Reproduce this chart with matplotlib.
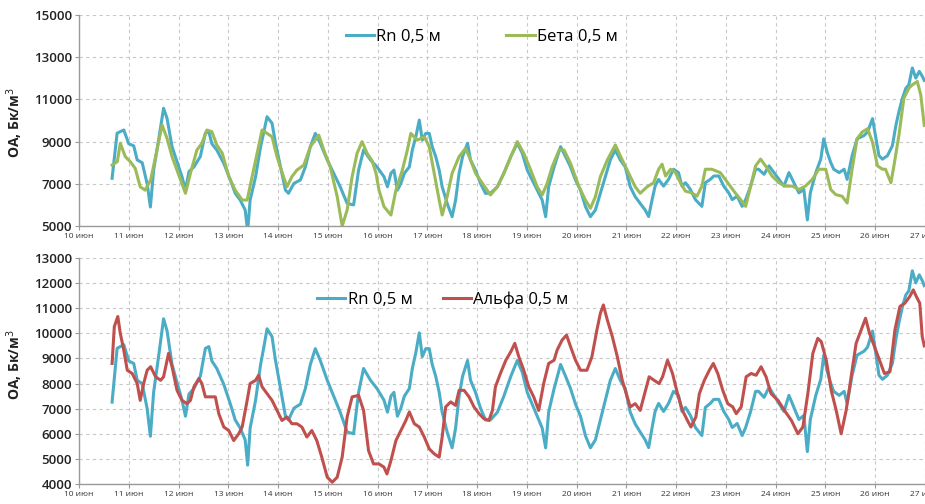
import matplotlib
matplotlib.use("Agg")
import matplotlib.pyplot as plt

# ---------------- data (day of June, values Бк/м3) ----------------
rn_day = [10.665, 10.766, 10.90, 11.0, 11.1, 11.17, 11.27, 11.37, 11.435, 11.50, 11.60, 11.70, 11.77, 11.87,
          11.97, 12.07, 12.14, 12.21, 12.31, 12.44, 12.54, 12.61, 12.67, 12.77, 12.91, 13.04, 13.14, 13.24,
          13.34, 13.39, 13.44, 13.55, 13.65, 13.71, 13.78, 13.88, 13.95, 14.05, 14.15, 14.21, 14.32, 14.45,
          14.55, 14.65, 14.75, 14.85, 14.99, 15.12, 15.25, 15.39, 15.52, 15.62, 15.72, 15.86, 15.99, 16.13,
          16.20, 16.27, 16.33, 16.40, 16.47, 16.54, 16.64, 16.70, 16.77, 16.84, 16.90, 16.97, 17.04, 17.10,
          17.17, 17.24, 17.30, 17.40, 17.50, 17.57, 17.64, 17.71, 17.81, 17.87, 17.97, 18.07, 18.17, 18.27,
          18.41, 18.54, 18.68, 18.81, 18.91, 19.01, 19.11, 19.21, 19.31, 19.38, 19.44, 19.55, 19.68, 19.78,
          19.88, 19.98, 20.08, 20.18, 20.28, 20.38, 20.48, 20.58, 20.68, 20.78, 20.88, 20.98, 21.08, 21.18,
          21.28, 21.38, 21.45, 21.52, 21.58, 21.65, 21.75, 21.85, 21.95, 22.05, 22.12, 22.19, 22.29, 22.39,
          22.52, 22.59, 22.69, 22.76, 22.86, 22.96, 23.06, 23.13, 23.23, 23.33, 23.40, 23.50, 23.60, 23.66,
          23.77, 23.87, 23.97, 24.07, 24.17, 24.27, 24.37, 24.47, 24.57, 24.64, 24.70, 24.81, 24.91, 24.97,
          25.04, 25.11, 25.17, 25.28, 25.38, 25.44, 25.54, 25.64, 25.78, 25.85, 25.95, 26.01, 26.08, 26.15,
          26.25, 26.35, 26.42, 26.48, 26.55, 26.62, 26.68, 26.75, 26.82, 26.89, 26.95, 26.99]
rn_val = [7260, 9400, 9550, 8900, 8800, 8130, 8000, 7000, 5900, 7650, 9080, 10580, 10100, 8760,
          8050, 7340, 6700, 7580, 7800, 8300, 9400, 9470, 8900, 8600, 7970, 7200, 6550, 6230,
          5760, 4750, 6230, 7340, 8760, 9390, 10180, 9870, 8920, 7800, 6700, 6550, 7020, 7180,
          7800, 8760, 9390, 8920, 8130, 7500, 6860, 6070, 6000, 7650, 8600, 8130, 7800, 7340,
          6860, 7500, 7650, 6700, 7020, 7500, 7800, 8600, 9230, 10020, 9070, 9390, 9390, 8760,
          8290, 7650, 6860, 6070, 5440, 6230, 7500, 8290, 8920, 8130, 7650, 7020, 6550, 6550,
          6860, 7500, 8290, 8920, 8450, 7650, 7180, 6700, 6230, 5440, 6860, 7800, 8760, 8290,
          7800, 7180, 6700, 5920, 5440, 5760, 6550, 7340, 8130, 8600, 8130, 7800, 6860, 6390,
          6070, 5760, 5450, 6250, 6890, 7210, 6890, 7210, 7690, 7530, 6890, 7050, 6730, 6250,
          5930, 7050, 7210, 7370, 7370, 6890, 6570, 6250, 6410, 5930, 6250, 6890, 7690, 7690,
          7450, 7850, 7530, 7210, 6890, 7530, 7050, 6570, 6730, 5290, 6570, 7530, 8170, 9130,
          8490, 8010, 7690, 7530, 7690, 7210, 8330, 9130, 9290, 9450, 10090, 9290, 8330, 8170,
          8330, 8810, 9770, 10410, 11050, 11530, 11690, 12490, 12010, 12330, 12100, 11900]

beta_day = [10.665, 10.77, 10.83, 10.93, 11.03, 11.13, 11.23, 11.33, 11.44, 11.54, 11.67, 11.77, 11.87,
            11.97, 12.14, 12.24, 12.37, 12.47, 12.57, 12.67, 12.77, 12.88, 13.01, 13.14, 13.28, 13.38,
            13.48, 13.58, 13.68, 13.78, 13.88, 13.98, 14.11, 14.18, 14.28, 14.38, 14.52, 14.65, 14.82,
            14.92, 15.05, 15.19, 15.29, 15.39, 15.49, 15.59, 15.69, 15.79, 15.89, 15.97, 16.03, 16.13,
            16.27, 16.37, 16.50, 16.60, 16.67, 16.80, 16.94, 17.04, 17.14, 17.24, 17.30, 17.40, 17.50,
            17.64, 17.77, 17.87, 17.97, 18.11, 18.27, 18.41, 18.54, 18.68, 18.81, 18.94, 19.08, 19.21,
            19.31, 19.41, 19.51, 19.65, 19.75, 19.88, 20.05, 20.18, 20.28, 20.38, 20.48, 20.62, 20.78,
            20.92, 21.05, 21.18, 21.28, 21.42, 21.55, 21.65, 21.72, 21.79, 21.89, 21.99, 22.09, 22.19,
            22.32, 22.42, 22.52, 22.59, 22.72, 22.89, 22.99, 23.09, 23.19, 23.30, 23.40, 23.50, 23.60,
            23.70, 23.80, 23.93, 24.07, 24.20, 24.34, 24.47, 24.60, 24.74, 24.87, 25.01, 25.11, 25.21,
            25.34, 25.44, 25.54, 25.64, 25.74, 25.85, 25.95, 26.05, 26.15, 26.21, 26.32, 26.38, 26.48,
            26.58, 26.68, 26.75, 26.85, 26.92, 26.99]
beta_val = [7890, 8050, 8920, 8290, 8050, 7730, 6860, 6700, 7180, 8290, 9790, 9150, 8290,
            7650, 6550, 7500, 8600, 8920, 9550, 9470, 8840, 8450, 7340, 6700, 6230, 6230,
            7340, 8450, 9550, 9390, 9230, 8290, 7340, 6860, 7340, 7650, 7890, 8760, 9310,
            8600, 7800, 6390, 5000, 5760, 7340, 8450, 9000, 8450, 8100, 7500, 6700, 5920,
            5520, 6700, 7650, 8600, 9390, 9070, 9230, 8760, 7500, 6230, 5520, 6390, 7500,
            8290, 8680, 8130, 7500, 7020, 6470, 6860, 7500, 8290, 9000, 8450, 7650, 6860,
            6470, 7020, 7800, 8600, 8600, 7970, 6860, 6230, 5840, 6390, 7340, 8130, 8840,
            8130, 7500, 6860, 6550, 6860, 7050, 7690, 7930, 7370, 7690, 7530, 7050, 6650,
            6570, 6410, 6890, 7690, 7690, 7530, 7210, 6890, 6570, 6250, 5930, 6890, 7850,
            8170, 7850, 7370, 7050, 6890, 6890, 6730, 6890, 7210, 7690, 7690, 6730, 6490,
            6410, 6090, 7690, 9130, 9450, 9610, 8970, 7850, 7690, 7690, 7050, 7850, 9290,
            11050, 11530, 11690, 11850, 11210, 9770]

alpha_day = [10.665, 10.71, 10.78, 10.83, 10.90, 10.97, 11.07, 11.17, 11.23, 11.30, 11.37, 11.44, 11.54,
             11.64, 11.70, 11.80, 11.87, 11.97, 12.07, 12.17, 12.24, 12.31, 12.41, 12.47, 12.54, 12.64,
             12.74, 12.81, 12.91, 13.01, 13.11, 13.21, 13.28, 13.38, 13.44, 13.55, 13.61, 13.68, 13.78,
             13.88, 13.98, 14.08, 14.18, 14.28, 14.38, 14.48, 14.58, 14.68, 14.78, 14.88, 14.99, 15.09,
             15.19, 15.29, 15.39, 15.49, 15.62, 15.72, 15.82, 15.92, 16.03, 16.13, 16.19, 16.27, 16.37,
             16.47, 16.57, 16.64, 16.74, 16.84, 16.94, 17.04, 17.14, 17.24, 17.30, 17.37, 17.47, 17.57,
             17.64, 17.74, 17.84, 17.94, 18.04, 18.14, 18.24, 18.31, 18.37, 18.47, 18.58, 18.68, 18.76,
             18.84, 18.94, 19.04, 19.14, 19.24, 19.34, 19.44, 19.55, 19.61, 19.71, 19.80, 19.88, 19.98,
             20.08, 20.21, 20.31, 20.41, 20.48, 20.54, 20.62, 20.72, 20.82, 20.92, 21.02, 21.08, 21.18,
             21.28, 21.37, 21.46, 21.56, 21.66, 21.73, 21.83, 21.93, 22.03, 22.13, 22.23, 22.30, 22.40,
             22.47, 22.57, 22.67, 22.75, 22.84, 22.94, 23.04, 23.14, 23.21, 23.31, 23.41, 23.51, 23.61,
             23.71, 23.81, 23.91, 24.05, 24.18, 24.32, 24.45, 24.55, 24.65, 24.75, 24.85, 24.92, 25.02,
             25.12, 25.22, 25.32, 25.42, 25.52, 25.62, 25.72, 25.81, 25.89, 25.99, 26.09, 26.19, 26.30,
             26.40, 26.50, 26.60, 26.70, 26.77, 26.83, 26.90, 26.95, 26.99]
alpha_val = [8800, 10270, 10670, 10000, 9330, 8530, 8400, 8000, 7330, 8000, 8530, 8670, 8270,
             8130, 8270, 9200, 8670, 7730, 7330, 7200, 7330, 7870, 8200, 8000, 7470, 7470,
             7470, 6800, 6270, 6130, 5730, 6000, 6270, 7330, 8000, 8130, 8330, 7870, 7600,
             7330, 6930, 6530, 6670, 6400, 6400, 6270, 5870, 6130, 5730, 5070, 4270, 4070,
             4270, 5070, 6670, 7470, 7530, 6930, 5330, 4800, 4800, 4670, 4400, 4930, 5730,
             6130, 6530, 6870, 6400, 6270, 5870, 5400, 5200, 5070, 5870, 7070, 7270, 7130,
             7730, 7730, 7470, 7070, 6800, 6600, 6530, 6930, 7870, 8400, 8930, 9270, 9600,
             9070, 8530, 7870, 7470, 6930, 8000, 8800, 8930, 9330, 9730, 9930, 9470, 8930,
             8530, 8530, 9070, 10130, 10800, 11130, 10530, 9870, 9070, 8130, 7470, 7070, 7200,
             6930, 7600, 8270, 8130, 8000, 8270, 8930, 8400, 7600, 6930, 6530, 6270, 6670,
             7600, 8130, 8530, 8800, 8400, 7730, 7200, 7070, 6800, 7070, 8270, 8400, 8330,
             8670, 8270, 7600, 7330, 6930, 6530, 6000, 6270, 7600, 9200, 9800, 9670, 8930,
             7730, 6930, 6000, 6930, 8270, 9600, 10130, 10600, 10000, 9470, 8930, 8400, 8470,
             10130, 11070, 11200, 11470, 11730, 11470, 11200, 9870, 9500]

x_days = list(range(10, 28))
x_labels = [f"{d} июн" for d in x_days]
top_yticks = [5000, 7000, 9000, 11000, 13000, 15000]
bot_yticks = [4000, 5000, 6000, 7000, 8000, 9000, 10000, 11000, 12000, 13000]
y_label = "ОА, Бк/м$^3$"
rn_name = "Rn 0,5 м"
beta_name = "Бета 0,5 м"
alpha_name = "Альфа 0,5 м"

# ---------------- style ----------------
plt.rcParams['font.family'] = ['Open Sans', 'DejaVu Sans']
C_RN = '#4BACC6'
C_BETA = '#9BBB59'
C_ALPHA = '#C0504D'
LW = 2.2

W, H = 925, 504
fig = plt.figure(figsize=(W / 100, H / 100), dpi=100)

def px_axes(x0, y0, x1, y1):
    return fig.add_axes([x0 / W, 1 - y1 / H, (x1 - x0) / W, (y1 - y0) / H])

ax1 = px_axes(79, 15, 925, 226)
ax2 = px_axes(79, 258, 925, 484)

def style(ax, yticks, ylim):
    ax.set_xlim(10, 27.005)
    ax.set_ylim(*ylim)
    ax.set_yticks(yticks)
    ax.set_yticklabels([str(v) for v in yticks], fontsize=9.5, color='#222222', fontweight='semibold')
    ax.set_xticks(x_days)
    ax.set_xticklabels(x_labels, fontsize=6, color='#333333')
    ax.grid(True, linestyle=(0, (3, 3)), color='#c8c8c8', linewidth=0.8)
    ax.set_axisbelow(True)
    for s in ('top', 'right'):
        ax.spines[s].set_visible(False)
    for s in ('left', 'bottom'):
        ax.spines[s].set_color('#9a9a9a')
        ax.spines[s].set_linewidth(1.0)
    ax.tick_params(axis='both', direction='out', length=3, color='#9a9a9a', pad=2)
    ax.set_ylabel(y_label, fontsize=10, fontweight='bold', color='#222222')

style(ax1, top_yticks, (5000, 15000))
style(ax2, bot_yticks, (4000, 13000))
ax1.yaxis.set_label_coords(-0.064, 0.49)
ax2.yaxis.set_label_coords(-0.064, 0.53)

ax1.plot(rn_day, rn_val, color=C_RN, lw=LW, label=rn_name, solid_joinstyle='round')
ax1.plot(beta_day, beta_val, color=C_BETA, lw=LW, label=beta_name, solid_joinstyle='round')
ax2.plot(rn_day, rn_val, color=C_RN, lw=LW, label=rn_name, solid_joinstyle='round')
ax2.plot(alpha_day, alpha_val, color=C_ALPHA, lw=LW, label=alpha_name, solid_joinstyle='round')

leg1 = ax1.legend(loc='center', bbox_to_anchor=(0.476, 0.896), ncol=2, frameon=False,
                  fontsize=12, handlelength=1.7, handletextpad=0.15, columnspacing=3.9)
leg2 = ax2.legend(loc='center', bbox_to_anchor=(0.430, 0.814), ncol=2, frameon=False,
                  fontsize=12, handlelength=1.7, handletextpad=0.15, columnspacing=1.8)

fig.savefig('out.png', dpi=100)
